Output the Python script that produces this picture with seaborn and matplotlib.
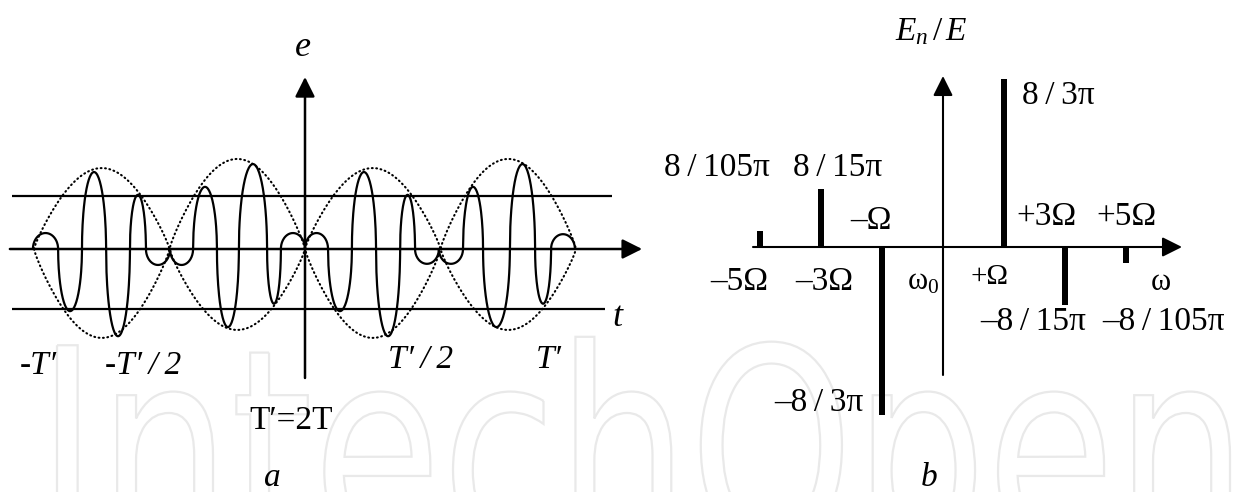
import numpy as np
import pandas as pd
import matplotlib
matplotlib.use("Agg")
import matplotlib.pyplot as plt
import seaborn as sns
from matplotlib.textpath import TextPath
from matplotlib.patches import PathPatch
from matplotlib.font_manager import FontProperties
from matplotlib.transforms import Affine2D

# ---------------------------------------------------------------- data
# (a) balanced-modulated oscillation e(t)
# zero crossings of the carrier, time in units of T'
zero_crossings = [-1.004, -0.911, -0.823, -0.734, -0.646, -0.587, -0.498,
                  -0.413, -0.325, -0.244, -0.140, -0.089, 0.000,
                  0.085, 0.173, 0.262, 0.351, 0.406, 0.494,
                  0.583, 0.657, 0.756, 0.849, 0.908, 0.996]
# signed peak of every half-wave between two consecutive crossings (units of E)
half_wave_peaks = [0.28, -1.09, 1.35, -1.53, 0.95, -0.28,
                   -0.28, 1.09, -1.37, 1.49, -0.96, 0.28,
                   0.28, -1.09, 1.35, -1.53, 0.95, -0.26,
                   -0.26, 1.09, -1.37, 1.49, -0.96, 0.26]
# dotted envelope: lobe boundaries (T') and lobe amplitudes of the two traces (E)
envelope_nodes = [-1.0, -0.5, 0.0, 0.5, 1.0]
envelope_a = [-1.56, 1.58, -1.56, 1.58]
envelope_b = [1.42, -1.42, 1.42, -1.42]
# horizontal reference levels (E)
reference_levels = [0.93, -1.05]
time_marks = ["-T′", "-T′\u2009/\u20092", "T′\u2009/\u20092", "T′"]

# (b) spectrum around the carrier ω0
harmonics = [-5, -3, -1, 1, 3, 5]
harmonic_labels = ["–5Ω", "–3Ω", "–Ω", "+Ω", "+3Ω", "+5Ω"]
amp_denominators = [105, 15, 3, 3, 15, 105]
amp_signs = [1, 1, -1, 1, -1, -1]

# ---------------------------------------------------------------- style
sns.set_theme(style="white")
plt.rcParams["font.family"] = ["Liberation Serif", "DejaVu Serif"]
plt.rcParams["mathtext.fontset"] = "custom"
plt.rcParams["mathtext.rm"] = "Liberation Serif"
plt.rcParams["mathtext.it"] = "Liberation Serif:italic"
plt.rcParams["mathtext.bf"] = "Liberation Serif:bold"

W, H = 1237, 492
fig = plt.figure(figsize=(W / 100, H / 100), dpi=100)
fig.patch.set_facecolor("white")

# pixel canvas for annotations and the faint publisher logo
bg = fig.add_axes([0, 0, 1, 1], zorder=0)
bg.set_xlim(0, W)
bg.set_ylim(H, 0)
bg.axis("off")

logo_path = TextPath((0, 0), "IntechOpen", size=1,
                     prop=FontProperties(family="DejaVu Sans"))
ext = logo_path.get_extents()
sx = (1230 - 57) / (ext.x1 - ext.x0)
logo_tr = Affine2D().translate(-ext.x0, 0).scale(sx, -274).translate(57, 545)
bg.add_patch(PathPatch(logo_tr.transform_path(logo_path), facecolor="none",
                       edgecolor="#e9e9e9", lw=1.6))

arrow = dict(arrowstyle="-|>,head_length=1.2,head_width=0.6", color="black",
             shrinkA=0, shrinkB=0, mutation_scale=10)

# ---------------------------------------------------------------- panel a
T_PX, E_PX, X0, Y0 = 271, 57, 305, 249
axl = fig.add_axes([0, 0, 660 / W, 1], zorder=1)
axl.set_xlim(-X0 / T_PX, (660 - X0) / T_PX)
axl.set_ylim((Y0 - H) / E_PX, Y0 / E_PX)

theta = np.linspace(0, np.pi, 60)
parts = []
for c0, c1, pk in zip(zero_crossings[:-1], zero_crossings[1:], half_wave_peaks):
    mid, half = (c0 + c1) / 2, (c1 - c0) / 2
    parts.append(pd.DataFrame({"t": mid - half * np.cos(theta),
                               "e": pk * np.sin(theta)}))
wave = pd.concat(parts, ignore_index=True)
sns.lineplot(data=wave, x="t", y="e", sort=False, estimator=None,
             color="black", lw=1.6, ax=axl)

phi = np.linspace(0, 1, 90)


def envelope_frame(amps):
    segs = []
    for n0, n1, a in zip(envelope_nodes[:-1], envelope_nodes[1:], amps):
        segs.append(pd.DataFrame({"t": n0 + (n1 - n0) * phi,
                                  "e": a * np.sin(np.pi * phi) ** 0.85}))
    return pd.concat(segs, ignore_index=True)


for amps in (envelope_a, envelope_b):
    sns.lineplot(data=envelope_frame(amps), x="t", y="e", sort=False,
                 estimator=None, color="black", lw=1.5,
                 linestyle=(0, (0.4, 1.7)), dash_capstyle="round", ax=axl)

axl.hlines(reference_levels, xmin=[-1.081, -1.081], xmax=[1.133, 1.107],
           color="black", lw=1.6)
axl.annotate("", xy=(1.244, 0), xytext=(-1.089, 0), arrowprops={**arrow, "lw": 1.8})
axl.annotate("", xy=(0, 3.018), xytext=(0, -2.263), arrowprops={**arrow, "lw": 1.8})
axl.axis("off")

# ---------------------------------------------------------------- panel b
S_PX, RX0, RY0, V_PX, POW = 61, 943, 247, 187.3, 0.66
axr = fig.add_axes([700 / W, 0, (W - 700) / W, 1], zorder=1)


def fwd(v):
    return np.sign(v) * np.abs(v) ** POW


def inv(f):
    return np.sign(f) * np.abs(f) ** (1 / POW)


axr.set_yscale("function", functions=(fwd, inv))
slots = [int(np.sign(k) * (abs(k) + 1) // 2) for k in harmonics]
amps = [s * 8 / (d * np.pi) for s, d in zip(amp_signs, amp_denominators)]
spec = pd.DataFrame({"slot": slots, "amp": amps})
sns.barplot(data=spec, x="slot", y="amp", native_scale=True, orient="x",
            width=0.085, color="black", saturation=1, errorbar=None,
            linewidth=0, ax=axr)
axr.set_xlim((700 - RX0) / S_PX, (W - RX0) / S_PX)
axr.set_ylim(inv(-(H - RY0) / V_PX), inv(RY0 / V_PX))
axr.annotate("", xy=(3.918, 0), xytext=(-3.115, 0), arrowprops={**arrow, "lw": 1.5})
vt = axr.get_xaxis_transform()
axr.annotate("", xy=(0, 1 - 76 / H), xytext=(0, 1 - 375 / H), xycoords=vt,
             textcoords=vt, arrowprops={**arrow, "lw": 1.5})
axr.axis("off")

# ---------------------------------------------------------------- text
def label(s, x, y, size=24, style="normal", ha="center"):
    bg.text(x, y, s, fontsize=size, fontstyle=style, ha=ha, va="center",
            color="black")


label("e", 303, 48, 26, "italic")
label("t", 617, 318, 26, "italic")
for s, x, y in zip(time_marks, [38, 143, 421, 549], [366, 366, 360, 360]):
    label(s, x, y, 24, "italic")
label("T′=2T", 291, 421, 24)
label("a", 272, 478, 24, "italic")
label("b", 929, 478, 24, "italic")

label(r"$E_n\,/\,E$", 931, 32, 24)
amp_pos = [(770, 168, "right"), (838, 168, "center"), (819, 403, "center"),
           (1058, 96, "center"), (1033, 322, "center"), (1164, 322, "center")]
for s, d, (x, y, ha) in zip(amp_signs, amp_denominators, amp_pos):
    txt = ("–" if s < 0 else "") + f"8\u2009/\u2009{d}π"
    label(txt, x, y, 24, ha=ha)
harm_pos = [(739, 282, 24), (824, 282, 24), (871, 221, 24), (990, 277, 21),
            (1046, 217, 24), (1126, 217, 24)]
for s, (x, y, fs) in zip(harmonic_labels, harm_pos):
    label(s, x, y, fs)
label(r"ω$_0$", 923, 282, 22)
label("ω", 1161, 283, 22)

fig.savefig("out.png", dpi=100, facecolor="white")
